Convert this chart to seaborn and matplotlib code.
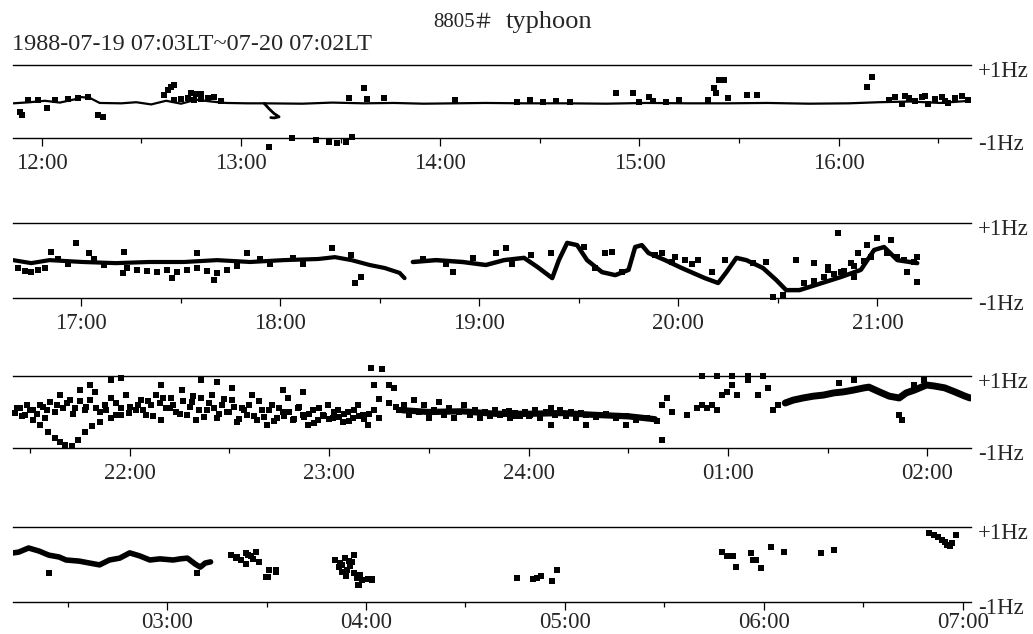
import matplotlib
matplotlib.use("Agg")
import matplotlib.pyplot as plt
import seaborn as sns
import pandas as pd
from matplotlib.ticker import MultipleLocator, FuncFormatter
from matplotlib.transforms import ScaledTranslation

# ---------------- data (time in minutes after 1988-07-19 00:00 LT, Doppler shift in Hz) ----
panel_ranges = [(711.4, 999.8), (999.5, 1288.2), (1284.9, 1573.1), (1573.5, 1862.5)]

# panel 1 (11:51 - 16:40)
p1_line_t = [711.5, 716.5, 721, 725.5, 730, 732, 734.5, 737.5, 744, 748.5, 753, 757.5, 762, 766.5, 771,
             775.5, 782, 787, 798.5, 807.5, 817, 826, 835, 844.5, 853.5, 865.5, 878, 890, 902, 914.5,
             926.5, 938.5, 951, 963, 972, 981.5, 990.5, 999.5]
p1_line_hz = [-0.05, -0.02, 0.02, -0.03, 0.06, 0.12, 0.10, -0.04, -0.05, -0.02, -0.08, 0.02, -0.06, 0.05, 0.0,
              -0.04, -0.05, -0.05, -0.06, -0.03, -0.05, -0.04, -0.06, -0.05, -0.04, -0.05, -0.05, -0.06, -0.04, -0.05,
              -0.05, -0.04, -0.06, -0.05, -0.02, 0.0, -0.04, 0.02]
p1_hook_t = [787, 788.5, 790, 791.5, 790, 789]
p1_hook_hz = [-0.05, -0.2, -0.33, -0.42, -0.45, -0.44]
p1_dots_t = [713.5, 714, 721.5, 737, 738.5, 757, 758, 759, 760, 765, 766.5, 768, 772,
             760, 762, 764, 766, 768, 770, 774,
             788.5, 795.5, 802.5, 806.5, 809, 811.5, 813.5,
             812.5, 818, 823, 817, 844.5,
             893, 898, 903, 920.5, 922.5, 924, 925.5, 923, 926.5, 932.5, 935.5, 968.5, 970,
             975, 977, 979, 981, 983, 985, 987, 989, 991, 993, 995, 997, 999, 980, 986, 992,
             716, 719, 724, 728, 731, 734,
             863, 867, 871, 875, 879, 900, 904, 908, 912]
p1_dots_hz = [-0.29, -0.37, -0.18, -0.37, -0.42, 0.18, 0.32, 0.40, 0.45, 0.23, 0.2, 0.2, 0.12,
              0.05, 0.08, 0.1, 0.05, 0.08, 0.1, 0.02,
              -1.25, -1.0, -1.05, -1.12, -1.14, -1.12, -0.97,
              0.1, 0.08, 0.1, 0.37, 0.04,
              0.23, 0.22, 0.12, 0.05, 0.37, 0.59, 0.59, 0.23, 0.1, 0.18, 0.18, 0.40, 0.67,
              0.05, 0.12, -0.08, 0.1, 0.02, 0.12, -0.06, 0.08, 0.12, -0.05, 0.1, 0.15, 0.05, 0.15, 0.15, 0.02,
              0.03, 0.05, 0.03, 0.08, 0.1, 0.12,
              0.0, 0.03, -0.02, 0.02, 0.0, 0.0, 0.02, -0.02, 0.03]

# panel 2 (16:39 - 21:28)
p2_lineA_t = [999.5, 1005, 1010.5, 1020.5, 1030.5, 1040.5, 1051, 1061, 1071, 1081, 1091.5, 1096.5, 1101.5,
              1107, 1111.5, 1116, 1117.5]
p2_lineA_hz = [0.01, -0.07, 0.01, -0.04, -0.07, -0.04, -0.04, 0.01, -0.04, 0.01, 0.04, 0.09, 0.01,
               -0.12, -0.2, -0.33, -0.47]
p2_lineB_t = [1120, 1127, 1135, 1142, 1147.5, 1153.5, 1157.5, 1162, 1164, 1166.5, 1169.5, 1172.5, 1177, 1181,
              1185, 1187, 1189, 1191, 1196, 1201, 1208, 1212, 1214.5, 1217.5, 1220.5, 1225.5, 1229.5, 1232.5,
              1236.5, 1241.5, 1249, 1255, 1259, 1262, 1266, 1272]
p2_lineB_hz = [-0.04, 0.01, -0.04, -0.12, 0.01, 0.07, -0.17, -0.47, 0.01, 0.47, 0.41, 0.01, -0.31, -0.39,
               -0.25, 0.36, 0.41, 0.2, 0.01, -0.2, -0.47, -0.6, -0.31, 0.07, 0.01, -0.2, -0.52, -0.79,
               -0.79, -0.65, -0.44, -0.25, 0.28, 0.36, 0.01, -0.07]
p2_dots_t = [1001, 1003, 1005, 1007, 1009, 1034, 1037, 1040, 1043, 1046, 1049, 1052, 1055, 1058, 1061, 1064, 1067,
             1018.5, 1011, 1022.5, 1033, 1055, 1070, 1095.5, 1101.5,
             1032.5, 1047.5, 1060, 1102.5, 1104.5, 1132, 1145, 1148,
             1155.5, 1161.5, 1171.5, 1178, 1180, 1195, 1198, 1202, 1206, 1214, 1222.5, 1226.5, 1235.5, 1241,
             1245, 1248, 1245, 1249, 1252, 1254, 1253, 1257, 1260, 1264, 1263, 1266, 1268, 1271, 1272, 1269,
             1272, 1228.5, 1231.5,
             1238, 1241, 1244, 1247, 1250, 1253, 1256, 1258,
             1013, 1016, 1024, 1027, 1074, 1077, 1084, 1087, 1123, 1130, 1138, 1150, 1175, 1183, 1193, 1199,
             1204, 1210]
p2_dots_hz = [-0.2, -0.27, -0.31, -0.25, -0.2, -0.2, -0.25, -0.28, -0.3, -0.25, -0.3, -0.25, -0.2, -0.28, -0.33,
              -0.25, -0.15,
              0.47, 0.23, 0.2, 0.23, 0.2, 0.2, 0.33, 0.15,
              -0.33, -0.47, -0.52, -0.6, -0.44, -0.31, 0.2, 0.33,
              0.15, 0.2, 0.36, 0.2, 0.23, 0.2, -0.04, 0.01, 0.01, 0.01, -0.07, -0.04, 0.01, -0.07,
              -0.17, 0.73, -0.25, -0.31, -0.07, 0.2, -0.44, 0.41, 0.6, 0.55, 0.2, 0.09, 0.01, -0.04, 0.09, -0.31,
              -0.57, -0.97, -0.92,
              -0.6, -0.55, -0.45, -0.35, -0.28, -0.15, 0.0, 0.1,
              0.05, -0.1, 0.05, -0.12, 0.05, -0.1, 0.06, -0.08, 0.05, -0.1, 0.06, -0.1, -0.2, -0.3, 0.15, 0.1,
              -0.1, -0.3]

# panel 3 (21:25 - 02:14)
p3_band_t = [1402, 1410, 1420, 1430, 1440, 1450, 1460, 1470, 1478]
p3_band_hz = [0.05, 0.0, 0.02, -0.05, -0.05, -0.03, -0.08, -0.12, -0.2]
p3_rise_t = [1517.2, 1519.6, 1522.6, 1525.7, 1528.7, 1531.8, 1534.8, 1537.8, 1540.9, 1542.4, 1545.5, 1548.5,
             1551.5, 1553.6, 1556.1, 1559.7, 1562.2, 1565.2, 1568.2, 1571.3, 1572.8]
p3_rise_hz = [0.25, 0.33, 0.39, 0.44, 0.47, 0.53, 0.56, 0.61, 0.67, 0.69, 0.56, 0.44,
              0.39, 0.53, 0.61, 0.75, 0.72, 0.67, 0.56, 0.44, 0.39]
p3_dots_t = [1285.4, 1286.9, 1288.4, 1289.9, 1293.0, 1294.5, 1296.0, 1297.5, 1299.0, 1302.1, 1303.6, 1305.1,
             1306.7, 1308.2, 1309.7, 1311.2, 1312.7, 1314.3, 1315.8, 1317.3, 1318.8,
             1290.8, 1293.0, 1295.4, 1297.5, 1299.0, 1300.6, 1302.7, 1304.5, 1306.7, 1308.8, 1311.2, 1314.3,
             1317.3, 1319.7,
             1321.9, 1323.4, 1324.9, 1326.4, 1328.0, 1329.5, 1331.0, 1332.5, 1334.0, 1335.6, 1337.1, 1338.6,
             1340.1, 1341.6, 1343.2, 1344.7, 1346.2, 1347.7, 1349.2, 1350.8, 1352.3, 1353.8, 1355.3, 1356.8,
             1358.4, 1359.9, 1361.4, 1362.9, 1364.4, 1366.0, 1367.5, 1369.0, 1370.5, 1372.1, 1373.6, 1375.1,
             1376.6, 1378.1, 1379.7, 1381.2, 1382.7, 1384.2, 1385.7, 1387.3, 1388.8, 1390.3, 1391.8, 1393.4,
             1394.9,
             1308.2, 1314.3, 1317.3, 1329.5, 1341.6, 1346.2, 1350.8, 1366.0, 1372.1, 1393.4, 1397.9, 1399.4,
             1392.5, 1396,
             1401.0, 1402.5, 1404.0, 1405.5, 1407.0, 1408.6, 1410.1, 1411.6, 1413.1, 1414.6, 1416.2, 1417.7,
             1419.2, 1420.7, 1422.3, 1423.8, 1425.3, 1426.8, 1428.3, 1429.9, 1431.4, 1432.9, 1434.4, 1435.9,
             1437.5, 1439.0, 1432, 1434, 1436, 1438, 1440,
             1440.5, 1442.0, 1443.5, 1445.1, 1446.6, 1448.1, 1449.6, 1451.2, 1452.7, 1454.2, 1455.7, 1457.2,
             1460.3, 1463.3, 1466.4, 1469.4, 1472.4, 1475.5, 1478.5,
             1446.6, 1457.2, 1469.4, 1480.0,
             1480.0, 1481.6, 1483.1, 1487.6, 1490.7, 1492.2, 1493.7, 1495.2, 1496.8, 1498.3, 1499.8, 1501.3,
             1502.8, 1505.9, 1508.9, 1512.0, 1513.5, 1515.0,
             1492.2, 1496.8, 1501.3, 1505.9, 1510.5,
             1533.3, 1537.8, 1551.5, 1552.4, 1556.1, 1559.1]
p3_dots_hz = [-0.03, 0.11, -0.08, 0.06, 0.19, -0.17, 0.28, 0.0, 0.47, 0.33, 0.11, 0.61,
              0.06, 0.33, 0.56, 0.0, 0.19, 0.39, -0.08, 0.11, 0.47,
              -0.22, -0.36, -0.56, -0.72, -0.83, -0.92, -0.94, -0.78, -0.56, -0.39, -0.28, -0.17,
              -0.08, -0.03,
              0.06, 0.33, -0.08, 0.19, 0.47, -0.22, 0.11, 0.39, 0.0, 0.61, -0.08, 0.28,
              -0.22, 0.39, 0.06, 0.47, -0.17, 0.19, 0.0, 0.33, -0.28, 0.11, -0.08, 0.47,
              -0.22, 0.06, -0.36, 0.19, -0.17, 0.0, 0.39, -0.22, 0.11, -0.08, -0.36, 0.06,
              -0.22, -0.08, 0.19, -0.17, 0.06, -0.28, 0.0, -0.17, 0.19, -0.08, -0.36, 0.06,
              -0.17,
              0.75, 0.89, 0.94, 0.75, 0.89, 0.83, 0.67, 0.61, 0.56, 0.75, 0.75, 0.67,
              1.22, 1.2,
              0.06, 0.19, -0.08, 0.33, 0.0, 0.19, -0.17, 0.06, 0.28, -0.08, 0.11, -0.17,
              0.0, 0.19, -0.08, 0.06, -0.17, 0.0, -0.11, 0.06, -0.08, 0.0, -0.17, -0.03,
              -0.11, 0.0, -0.05, 0.02, -0.1, -0.05, -0.1,
              -0.08, 0.06, -0.17, 0.0, 0.11, -0.08, 0.06, -0.11, 0.0, -0.17, -0.03, -0.08,
              -0.14, -0.06, -0.17, -0.11, -0.22, -0.17, -0.25,
              -0.36, -0.36, -0.36, -0.78,
              0.19, 0.39, 0.0, -0.08, 0.11, 0.19, 0.11, 0.19, 0.06, 0.47, 0.56, 0.75,
              0.47, 0.89, 0.47, 0.67, 0.06, 0.19,
              1.0, 1.0, 1.0, 1.0, 1.0,
              0.81, 0.89, -0.08, -0.22, 0.75, 0.89]
# denser parts of the 21:40 - 23:20 cloud
p3_cloud_t = [1286, 1287.5, 1289, 1291, 1292, 1294, 1295, 1298, 1300, 1301, 1303, 1305, 1307, 1310, 1313,
              1316, 1320, 1322.5, 1324, 1325.5, 1327, 1329, 1330, 1332, 1333, 1335, 1336, 1338, 1339, 1341,
              1342.5, 1344, 1345.5, 1347, 1348.5, 1350, 1351.5, 1353, 1354.5, 1356, 1357.5, 1359, 1360.5,
              1362, 1363.5, 1365, 1366.5, 1368, 1369.5, 1371, 1372.5, 1374, 1375.5, 1377, 1378.5, 1380,
              1381.5, 1383, 1384.5, 1386, 1387.5, 1389, 1390.5, 1392, 1395, 1398, 1400]
p3_cloud_hz = [0.1, -0.1, 0.2, 0.05, -0.05, 0.15, 0.05, 0.2, 0.1, 0.25, -0.05, 0.3, 0.15, 0.1, 0.05,
               0.25, 0.15, 0.2, 0.05, 0.3, -0.1, 0.25, 0.4, 0.1, 0.2, -0.05, 0.3, 0.15, 0.45, 0.05,
               -0.15, 0.25, 0.1, -0.05, 0.35, 0.0, 0.15, -0.2, 0.05, 0.2, -0.1, 0.3, -0.15,
               0.05, -0.25, 0.1, -0.1, 0.0, -0.2, 0.15, -0.15, -0.05, -0.3, 0.1, -0.1, -0.2,
               0.0, -0.15, -0.05, -0.25, 0.05, -0.1, -0.2, -0.05, 0.35, 0.25, 0.15]

# panel 4 (02:13 - 07:03)
p4_line_t = [1573.6, 1575.2, 1578.2, 1581.3, 1584.3, 1587.4, 1589.5, 1593.5, 1596.5, 1599.6, 1602.6, 1605.7,
             1608.7, 1611.7, 1614.8, 1617.8, 1621.8, 1623.9, 1626.1, 1628.5, 1630.0, 1631.5, 1633.1]
p4_line_hz = [0.31, 0.33, 0.44, 0.36, 0.25, 0.2, 0.12, 0.09, 0.04, -0.01, 0.12, 0.17,
              0.31, 0.23, 0.12, 0.15, 0.12, 0.15, 0.17, 0.01, -0.07, 0.04, 0.07]
p4_dots_t = [1639.2, 1640.7, 1642.2, 1643.7, 1645.3, 1646.8, 1647.7, 1643.7, 1650.7, 1652.9, 1649.8, 1641,
             1644.5, 1646,
             1670.5, 1671.7, 1672.7, 1673.6, 1674.2, 1675.1, 1675.7, 1676.3, 1677.2, 1678.1, 1678.8, 1677.5,
             1680.6, 1681.8, 1672.7, 1673.9, 1676.5, 1672, 1674.8,
             1725.4, 1730.5, 1731.5, 1732.7, 1736.0, 1737.5,
             1787.5, 1789.0, 1790.6, 1791.5, 1796.0, 1796.6, 1797.6, 1799.1, 1802.1, 1806.1,
             1817.3, 1821.3,
             1849.9, 1851.2, 1852.4, 1853.9, 1854.8, 1855.4, 1856.3, 1856.9, 1857.9,
             1584.3, 1629.1, 1650.4, 1652.9, 1677.8, 1681.8]
p4_dots_hz = [0.25, 0.17, 0.12, 0.31, 0.23, 0.33, 0.07, 0.01, -0.15, -0.2, -0.33, 0.2,
              0.25, 0.15,
              0.12, -0.07, -0.01, 0.17, -0.15, -0.04, 0.07, -0.23, -0.36, -0.28, -0.41, -0.55,
              -0.39, -0.39, -0.2, -0.31, 0.25, 0.05, 0.1,
              -0.36, -0.39, -0.36, -0.31, -0.44, -0.15,
              0.33, 0.23, 0.23, -0.07, 0.31, 0.12, 0.12, -0.09, 0.47, 0.33,
              0.31, 0.39,
              0.84, 0.79, 0.73, 0.65, 0.6, 0.52, 0.49, 0.57, 0.79,
              -0.23, -0.23, -0.33, -0.15, -0.55, -0.41]

title_num = "8805"
title_hash = "＃"
title_word = "typhoon"
subtitle = "1988-07-19 07:03LT~07-20 07:02LT"
hz_labels = ["-1Hz", "+1Hz"]

# ---------------- drawing ----------------
sns.set_theme(style="white")
plt.rcParams['font.family'] = ['Liberation Serif', 'DejaVu Serif']

fig = plt.figure(figsize=(10.33, 6.34), dpi=100)
W, H = 1033, 634
panel_px = [(65, 138), (223, 298), (376, 448), (527, 602)]
label_pad = [5.5, 5.5, 5.0, 2.0]
x0_px, x1_px = 13, 971

lines = [
    [(p1_line_t, p1_line_hz, 1.6), (p1_hook_t, p1_hook_hz, 2.0)],
    [(p2_lineA_t, p2_lineA_hz, 3.0), (p2_lineB_t, p2_lineB_hz, 3.2)],
    [(p3_band_t, p3_band_hz, 4.5), (p3_rise_t, p3_rise_hz, 5.0)],
    [(p4_line_t, p4_line_hz, 4.0)],
]
dots = [[(p1_dots_t, p1_dots_hz, 14)],
        [(p2_dots_t, p2_dots_hz, 14)],
        [(p3_dots_t, p3_dots_hz, 18), (p3_cloud_t, p3_cloud_hz, 18)],
        [(p4_dots_t, p4_dots_hz, 16)]]


def fmt(m, pos):
    h = int(round(m / 60.0))
    if h > 24:
        h -= 24
    return f"{h:02d}:00"


for i, (top, bot) in enumerate(panel_px):
    ax = fig.add_axes([x0_px / W, 1 - bot / H, (x1_px - x0_px) / W, (bot - top) / H])
    for (tt, hh, lw) in lines[i]:
        df = pd.DataFrame({"t": tt, "hz": hh})
        sns.lineplot(data=df, x="t", y="hz", sort=False, estimator=None, color="black",
                     linewidth=lw, ax=ax)
    for (dt, dh, s) in dots[i]:
        sns.scatterplot(x=dt, y=dh, marker="s", s=s, color="black", linewidth=0, ax=ax)
    for c in ax.collections:
        c.set_clip_on(False)
    ax.set_xlim(*panel_ranges[i])
    ax.set_ylim(-1, 1)
    ax.set_xlabel("")
    ax.set_ylabel("")
    for side in ("left", "right"):
        ax.spines[side].set_visible(False)
    for side in ("top", "bottom"):
        ax.spines[side].set_visible(True)
        ax.spines[side].set_color("black")
        ax.spines[side].set_linewidth(1.0)
    ax.xaxis.set_major_locator(MultipleLocator(60))
    ax.xaxis.set_minor_locator(MultipleLocator(30))
    ax.xaxis.set_major_formatter(FuncFormatter(fmt))
    ax.tick_params(axis="x", which="major", direction="out", length=5.5, width=0.9,
                   color="black", labelsize=16.5, pad=label_pad[i], bottom=True)
    ax.tick_params(axis="x", which="minor", direction="out", length=3.5, width=0.9,
                   color="black", bottom=True)
    ax.yaxis.tick_right()
    ax.set_yticks([-1, 1])
    ax.set_yticklabels(hz_labels)
    ax.tick_params(axis="y", which="both", length=0, labelsize=16.5, pad=5, right=True, left=False)
    for lab in ax.get_yticklabels():
        lab.set_transform(lab.get_transform() + ScaledTranslation(0, -3 / 72, fig.dpi_scale_trans))
    ax.set_facecolor("none")

fig.text(433 / W, 1 - 27 / H, title_num, fontsize=15, ha="left", va="baseline")
fig.text(473 / W, 1 - 28 / H, title_hash, fontsize=15,
         family=['Noto Sans CJK SC', 'DejaVu Sans'], ha="left", va="baseline")
fig.text(506 / W, 1 - 28 / H, title_word, fontsize=19, ha="left", va="baseline")
fig.text(12 / W, 1 - 50 / H, subtitle, fontsize=17.5, ha="left", va="baseline")

fig.savefig("out.png", dpi=100)
